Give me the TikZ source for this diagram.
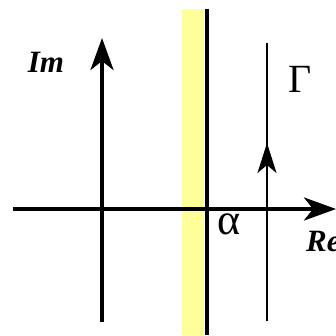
\documentclass[tikz,border=0pt]{standalone}
\usepackage{fontspec}
\setmainfont{Liberation Serif}
\usetikzlibrary{arrows.meta, positioning}
\definecolor{stripyellow}{RGB}{255,255,153}

\begin{document}
\begin{tikzpicture}[x=1pt, y=-1pt,
  axis/.style={line width=4pt, -{Stealth[length=32pt,width=23pt,inset=9pt]}},
  contour/.style={line width=2pt},
  axlabel/.style={font=\fontsize{31}{31}\selectfont\bfseries\itshape, inner sep=0pt},
  greek/.style={font=\fontsize{40}{40}\selectfont, inner sep=0pt},
  alphalabel/.style={font=\fontsize{44}{44}\selectfont, inner sep=0pt}]

\useasboundingbox (0,0) rectangle (336,335);

% Strip of convergence
\fill[stripyellow] (182,9) rectangle (204,335);
\coordinate (s1) at (207,9);
\coordinate (s2) at (207,335);
\draw[line width=4.5pt] (s1) -- (s2);

% Axes
\coordinate (re0) at (13,209);
\coordinate (re1) at (336,209);
\coordinate (im0) at (102,322);
\coordinate (im1) at (102,38);
\draw[axis] (re0) -- (re1);
\draw[axis] (im0) -- (im1);

% Contour Gamma
\coordinate (g0) at (267,321);
\coordinate (g1) at (267,43);
\coordinate (gm) at (267,143);
\draw[contour] (g0) -- (g1);
\draw[contour, -{Stealth[length=30pt,width=19pt,inset=8pt]}] (g0) -- (gm);

% Labels
\node[axlabel] (im) at (46,62) {Im};
\node[axlabel, anchor=west] (re) at (306,241) {Re};
\node[greek] (gamma) at (300,79) {Γ};
\node[alphalabel] (alpha) at (229,224) {α};

\end{tikzpicture}
\end{document}
